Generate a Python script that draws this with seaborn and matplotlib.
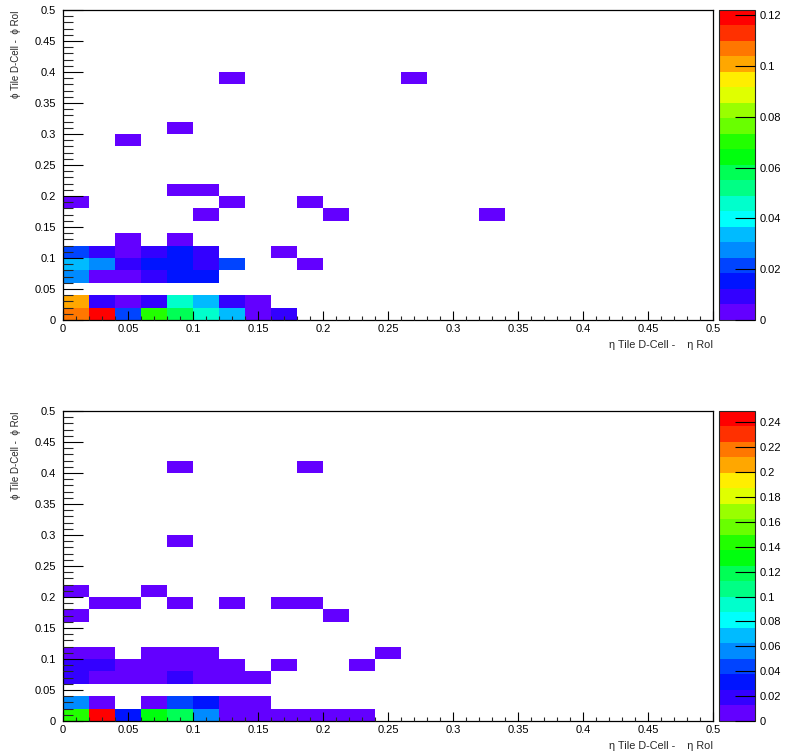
import colorsys
import numpy as np
import pandas as pd
import matplotlib
matplotlib.use("Agg")
import matplotlib.pyplot as plt
from matplotlib.colors import ListedColormap
from matplotlib.ticker import MultipleLocator, FuncFormatter
import seaborn as sns

# --- data: bin centres (eta, phi) and bin content of the non-empty cells ---
# top panel
top_eta = [0.01, 0.03, 0.05, 0.07, 0.09, 0.11, 0.13, 0.15, 0.17,
           0.01, 0.03, 0.05, 0.07, 0.09, 0.11, 0.13, 0.15,
           0.01, 0.03, 0.05, 0.07, 0.09, 0.11,
           0.01, 0.03, 0.05, 0.07, 0.09, 0.11, 0.13, 0.19,
           0.01, 0.03, 0.05, 0.07, 0.09, 0.11, 0.17,
           0.05, 0.09,
           0.11, 0.21, 0.33,
           0.01, 0.13, 0.19,
           0.09, 0.11,
           0.05,
           0.09,
           0.13, 0.27]
top_phi = [0.01] * 9 + [0.03] * 8 + [0.07] * 6 + [0.09] * 8 + [0.11] * 7 + \
          [0.13] * 2 + [0.17] * 3 + [0.19] * 3 + [0.21] * 2 + [0.29] + [0.31] + [0.39] * 2
top_frac = [0.107, 0.122, 0.021, 0.070, 0.058, 0.046, 0.034, 0.003, 0.009,
            0.101, 0.009, 0.003, 0.009, 0.046, 0.034, 0.009, 0.003,
            0.028, 0.003, 0.003, 0.009, 0.015, 0.015,
            0.034, 0.028, 0.009, 0.015, 0.015, 0.009, 0.021, 0.003,
            0.021, 0.009, 0.003, 0.009, 0.015, 0.009, 0.003,
            0.003, 0.003,
            0.003, 0.003, 0.003,
            0.003, 0.003, 0.003,
            0.003, 0.003,
            0.003,
            0.003,
            0.003, 0.003]
top_zmax = 0.1222
top_cticks = [0, 0.02, 0.04, 0.06, 0.08, 0.1, 0.12]

# bottom panel
bot_eta = [0.01, 0.03, 0.05, 0.07, 0.09, 0.11, 0.13, 0.15, 0.17, 0.19, 0.21, 0.23,
           0.01, 0.03, 0.07, 0.09, 0.11, 0.13, 0.15,
           0.01, 0.03, 0.05, 0.07, 0.09, 0.11, 0.13, 0.15,
           0.01, 0.03, 0.05, 0.07, 0.09, 0.11, 0.13, 0.17, 0.23,
           0.01, 0.03, 0.07, 0.09, 0.11, 0.25,
           0.01, 0.21,
           0.03, 0.05, 0.09, 0.13, 0.17, 0.19,
           0.01, 0.07,
           0.09,
           0.09, 0.19]
bot_phi = [0.01] * 12 + [0.03] * 7 + [0.07] * 8 + [0.09] * 9 + [0.11] * 6 + \
          [0.17] * 2 + [0.19] * 6 + [0.21] * 2 + [0.29] + [0.41] * 2
bot_frac = [0.143, 0.249, 0.031, 0.131, 0.118, 0.056, 0.006, 0.006, 0.006, 0.006, 0.006, 0.006,
            0.056, 0.006, 0.006, 0.044, 0.031, 0.006, 0.006,
            0.019, 0.006, 0.006, 0.006, 0.019, 0.006, 0.006, 0.006,
            0.019, 0.019, 0.006, 0.006, 0.006, 0.006, 0.006, 0.006, 0.006,
            0.006, 0.006, 0.006, 0.006, 0.006, 0.006,
            0.006, 0.006,
            0.006, 0.006, 0.006, 0.006, 0.006, 0.006,
            0.006, 0.006,
            0.006,
            0.006, 0.006]
bot_zmax = 0.2494
bot_cticks = [0, 0.02, 0.04, 0.06, 0.08, 0.1, 0.12, 0.14, 0.16, 0.18, 0.2, 0.22, 0.24]

xlabel = "η Tile D-Cell -    η RoI"
ylabel = "ϕ Tile D-Cell -  ϕ RoI"

sns.set_style("ticks")
plt.rcParams["font.family"] = ["Liberation Sans", "DejaVu Sans"]
plt.rcParams["axes.axisbelow"] = False

# ROOT "pretty" palette (violet -> red), 20 contour levels
pretty = [colorsys.hls_to_rgb((280 - (i + 1) * 280 / 50) / 360, 0.5, 1.0) for i in range(50)]
ncont = 20
cmap = ListedColormap([pretty[int((k + 0.99) * 50 / ncont)] for k in range(ncont)])

fmt = FuncFormatter(lambda v, _: f"{v:g}")


def draw_panel(ax, cax, eta, phi, frac, zmax, cticks):
    df = pd.DataFrame({"eta": eta, "phi": phi, "frac": frac})
    sns.histplot(data=df, x="eta", y="phi", weights="frac", bins=25,
                 binrange=((0, 0.5), (0, 0.5)), cmap=cmap, vmin=0, vmax=zmax,
                 ax=ax, cbar=True, cbar_ax=cax,
                 cbar_kws={"ticks": cticks, "format": fmt})
    ax.set_axisbelow(False)
    cax.set_axisbelow(False)
    ax.set_xlim(0, 0.5)
    ax.set_ylim(0, 0.5)
    ax.xaxis.set_major_locator(MultipleLocator(0.05))
    ax.xaxis.set_minor_locator(MultipleLocator(0.01))
    ax.yaxis.set_major_locator(MultipleLocator(0.05))
    ax.yaxis.set_minor_locator(MultipleLocator(0.01))
    ax.xaxis.set_major_formatter(fmt)
    ax.yaxis.set_major_formatter(fmt)
    ax.tick_params(axis="x", which="major", direction="in", length=6.5, width=0.8,
                   labelsize=8, pad=3, colors="black")
    ax.tick_params(axis="x", which="minor", direction="in", length=3.2, width=0.8)
    ax.tick_params(axis="y", which="major", direction="in", length=14.4, width=0.8,
                   labelsize=8, pad=5, colors="black")
    ax.tick_params(axis="y", which="minor", direction="in", length=7.2, width=0.8)
    for sp in ax.spines.values():
        sp.set_visible(True)
        sp.set_linewidth(0.9)
        sp.set_color("black")
    ax.set_xlabel(xlabel, loc="right", fontsize=7.8, labelpad=4)
    ax.set_ylabel(ylabel, loc="top", fontsize=7, labelpad=10)
    cax.tick_params(direction="in", length=14.4, width=0.8, labelsize=8, pad=3,
                    right=True, left=False, colors="black")
    cax.minorticks_off()
    for sp in cax.spines.values():
        sp.set_linewidth(0.8)


fig = plt.figure(figsize=(7.86, 7.53), dpi=100)
ax_top = fig.add_axes([63 / 786, 1 - 320 / 753, 650 / 786, 310 / 753])
cax_top = fig.add_axes([719 / 786, 1 - 320 / 753, 36 / 786, 310.5 / 753])
ax_bot = fig.add_axes([63 / 786, 1 - 721 / 753, 650 / 786, 310 / 753])
cax_bot = fig.add_axes([719 / 786, 1 - 721 / 753, 36 / 786, 310.5 / 753])

draw_panel(ax_top, cax_top, top_eta, top_phi, top_frac, top_zmax, top_cticks)
draw_panel(ax_bot, cax_bot, bot_eta, bot_phi, bot_frac, bot_zmax, bot_cticks)

plt.savefig("out.png", dpi=100)
plt.close()
